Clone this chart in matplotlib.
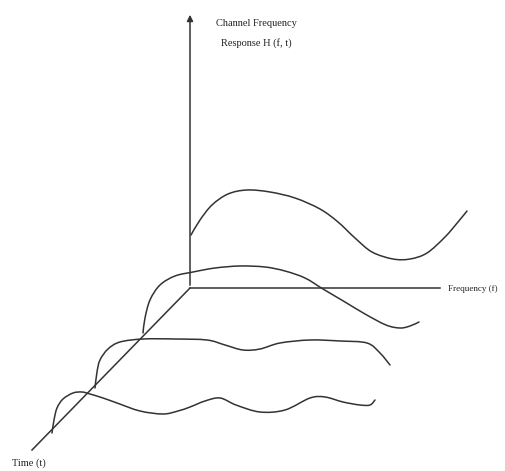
import numpy as np
import matplotlib
matplotlib.use('Agg')
import matplotlib.pyplot as plt
from matplotlib.path import Path
from matplotlib.patches import PathPatch

# curves, pixel coords (x right, y down)
c1_x = [191, 200, 212, 228, 247, 270, 295, 320, 338, 355, 372, 393, 410, 427, 445, 458, 467]
c1_y = [235, 220, 205, 194, 190, 192, 198, 209, 222, 238, 252, 259, 259, 253, 237, 222, 211]

c2_x = [143, 145, 150, 160, 175, 193, 215, 240, 265, 285, 305, 323, 345, 365, 386, 400, 410, 419]
c2_y = [333, 318, 300, 285, 276, 272, 268, 266, 267, 271, 278, 289, 302, 314, 325, 328, 326, 322]

c3_x = [95, 97, 100, 108, 120, 143, 175, 207, 225, 243, 260, 280, 310, 340, 367, 380, 390]
c3_y = [388, 372, 360, 349, 342, 339, 339, 340, 345, 350, 349, 343, 340, 341, 343, 353, 365]

c4_x = [52, 54, 57, 63, 73, 82, 90, 103, 117, 140, 163, 178, 190, 205, 220, 236, 260, 285, 310, 325, 343, 360, 370, 375]
c4_y = [433, 420, 408, 399, 393, 392, 394, 398, 403, 411, 414, 411, 407, 401, 398, 405, 412, 410, 398, 397, 402, 405, 405, 400]

origin = (190, 288)
freq_end = (440, 288)
time_end = (32, 450)
resp_top = (190, 12)


def smooth_path(xs, ys):
    # catmull-rom -> cubic bezier segments, drawn by matplotlib's Path
    p = np.column_stack([xs, ys]).astype(float)
    p = np.vstack([p[0], p, p[-1]])
    verts = [p[1]]
    codes = [Path.MOVETO]
    for i in range(1, len(p) - 2):
        b1 = p[i] + (p[i + 1] - p[i - 1]) / 6
        b2 = p[i + 1] - (p[i + 2] - p[i]) / 6
        verts += [b1, b2, p[i + 1]]
        codes += [Path.CURVE4] * 3
    return Path(verts, codes)


fig = plt.figure(figsize=(5.05, 4.71), dpi=100)
ax = fig.add_axes([0, 0, 1, 1])
ax.set_xlim(0, 505)
ax.set_ylim(471, 0)
ax.axis('off')

col = '#333333'
ax.plot([origin[0], freq_end[0]], [origin[1], freq_end[1]], color=col, lw=1.1)
ax.plot([origin[0], time_end[0]], [origin[1], time_end[1]], color=col, lw=1.1)
ax.annotate('', xy=resp_top, xytext=origin,
            arrowprops=dict(arrowstyle='-|>', color=col, lw=1.1, mutation_scale=9))

for xs, ys in [(c1_x, c1_y), (c2_x, c2_y), (c3_x, c3_y), (c4_x, c4_y)]:
    ax.add_patch(PathPatch(smooth_path(xs, ys), fill=False, edgecolor=col, lw=1.1,
                           capstyle='round', joinstyle='round'))

fnt = dict(family='Liberation Serif', size=7.5, color='#222222')
ax.text(256, 23, 'Channel Frequency', ha='center', va='center', **fnt)
ax.text(256, 43, 'Response H (f, t)', ha='center', va='center', **fnt)
ax.text(448, 289, 'Frequency (f)', ha='left', va='center',
        family='Liberation Serif', size=6.5, color='#222222')
ax.text(12, 463, 'Time (t)', ha='left', va='center', **fnt)

fig.savefig('out.png', dpi=100)
